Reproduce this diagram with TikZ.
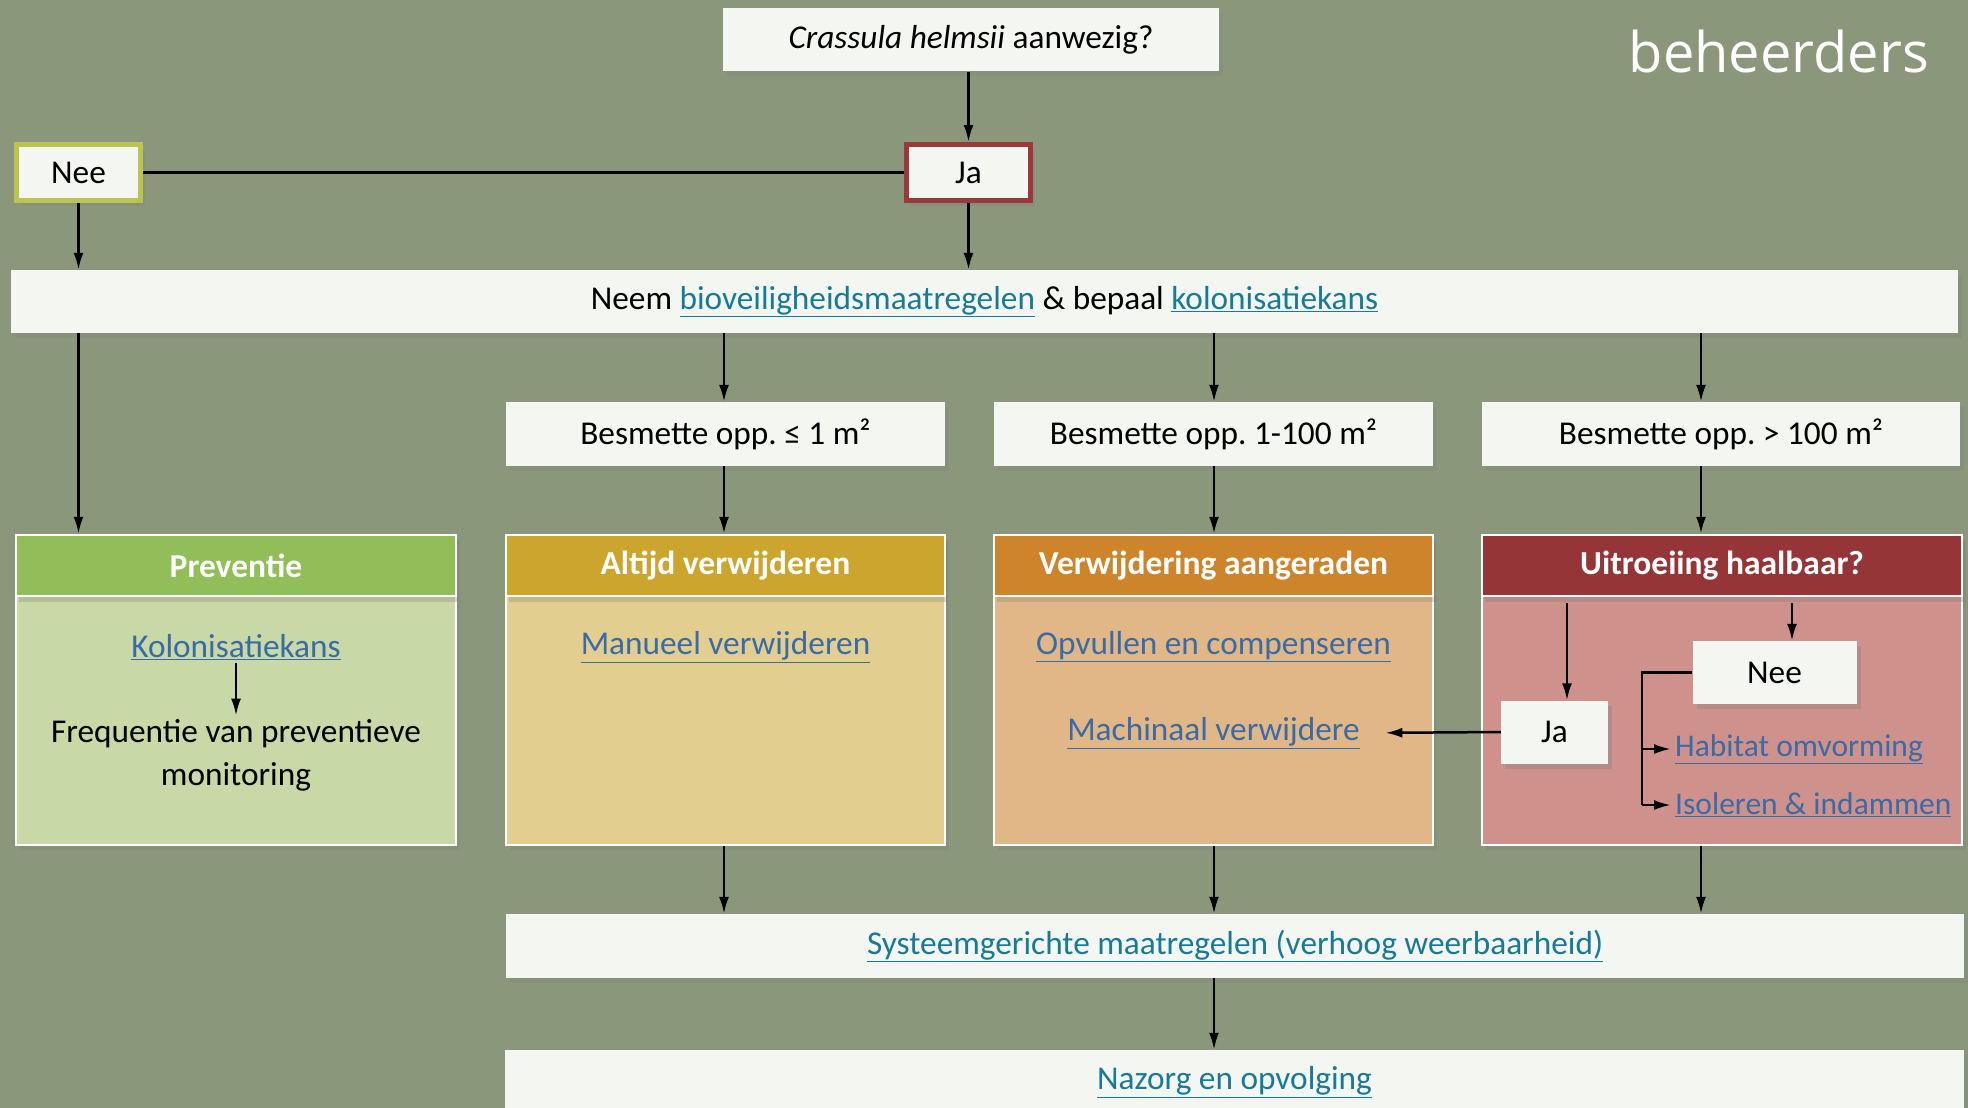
\documentclass[tikz,border=0pt]{standalone}
\usepackage{fontspec}
\setmainfont{Carlito}
\newfontfamily\kopletter{Open Sans}
\usetikzlibrary{positioning, arrows.meta, shadows}
\frenchspacing

\definecolor{achtergrond}{RGB}{139,151,122}
\definecolor{vakwit}{RGB}{244,246,241}
\definecolor{neerand}{RGB}{187,196,79}
\definecolor{jarand}{RGB}{155,56,58}
\definecolor{groenkop}{RGB}{146,190,89}
\definecolor{groenlijf}{RGB}{200,216,166}
\definecolor{goudkop}{RGB}{204,165,46}
\definecolor{goudlijf}{RGB}{226,206,143}
\definecolor{oranjekop}{RGB}{206,132,42}
\definecolor{oranjelijf}{RGB}{225,183,135}
\definecolor{roodkop}{RGB}{150,53,56}
\definecolor{roodlijf}{RGB}{206,145,139}
\definecolor{linkteal}{RGB}{23,122,150}
\definecolor{linkblauw}{RGB}{57,107,166}

\newcommand{\lnk}[1]{\textcolor{linkblauw}{\underline{#1}}}
\newcommand{\lnkt}[1]{\textcolor{linkteal}{\underline{#1}}}

\begin{document}
\begin{tikzpicture}[x=1pt, y=-1pt, font=\fontsize{33.3}{40}\selectfont]
                \tikzset{
                    vak/.style={fill=vakwit, inner sep=0pt, minimum height=63pt,
                        drop shadow={opacity=0.3, shadow xshift=4pt, shadow yshift=-5pt}},
                    kop/.style={draw=white, line width=2.5pt, text=white, font=\fontsize{33.5}{40}\selectfont\bfseries,
                        minimum height=61pt, inner sep=0pt, anchor=north,
                        drop shadow={opacity=0.3, shadow xshift=3pt, shadow yshift=-6pt}},
                    lijf/.style={draw=white, line width=2.5pt, minimum height=310pt, inner sep=0pt,
                        drop shadow={opacity=0.3, shadow xshift=4pt, shadow yshift=-5pt}},
                    pijl/.style={-{Latex[length=17pt, width=10pt]}, line width=2.5pt}
                }

                % BACKGROUND
                \fill[achtergrond] (0,0) rectangle (1968,1108);
                \useasboundingbox (0,0) rectangle (1968,1108);
                \node[anchor=base east, text=white, font=\kopletter\fontsize{56}{64}\selectfont, inner sep=0pt]
                    (titel) at (1929,73) {beheerders};

                % QUESTION
                \node[vak, minimum width=496pt] (vraag) at (971,40) {\textit{Crassula helmsii} aanwezig?};
                \node[vak, draw=neerand, line width=5pt, minimum width=124pt, minimum height=56pt]
                    (nee) at (78.5,172.5) {Nee};
                \node[vak, draw=jarand, line width=5pt, minimum width=124pt, minimum height=56pt]
                    (ja) at (968.5,172.5) {Ja};
                \node[vak, minimum width=1947pt] (neem) at (984.5,301.5)
                    {Neem \lnkt{bioveiligheidsmaatregelen} \& bepaal \lnkt{kolonisatiekans}};

                % SURFACES
                \node[vak, minimum width=439pt, minimum height=64pt] (opp1) at (725.5,434) {Besmette opp. ≤ 1 m²};
                \node[vak, minimum width=439pt, minimum height=64pt] (opp2) at (1213.5,434) {Besmette opp. 1-100 m²};
                \node[vak, minimum width=478pt, minimum height=64pt] (opp3) at (1721,434) {Besmette opp. > 100 m²};

                % CATEGORIES
                \node[lijf, fill=groenlijf, minimum width=440pt] (prev) at (236,690) {};
                \node[kop, fill=groenkop, minimum width=440pt] (prevkop) at (prev.north) {Preventie};
                \node[lijf, fill=goudlijf, minimum width=439pt] (altijd) at (725.5,690) {};
                \node[kop, fill=goudkop, minimum width=439pt] (altijdkop) at (altijd.north) {Altijd verwijderen};
                \node[lijf, fill=oranjelijf, minimum width=439pt] (verw) at (1213.5,690) {};
                \node[kop, fill=oranjekop, minimum width=439pt] (verwkop) at (verw.north) {Verwijdering aangeraden};
                \node[lijf, fill=roodlijf, minimum width=480pt] (uitr) at (1722,690) {};
                \node[kop, fill=roodkop, minimum width=480pt] (uitrkop) at (uitr.north) {Uitroeiing haalbaar?};

                % CONTENTS
                \node (kol) at (236,647) {\lnk{Kolonisatiekans}};
                \node[align=center, font=\fontsize{33.3}{43}\selectfont] (freq) at (236,755)
                    {Frequentie van preventieve\\monitoring};
                \node (man) at (725.5,647) {\lnk{Manueel verwijderen}};
                \node (opv) at (1213.5,647) {\lnk{Opvullen en compenseren}};
                \node (mach) at (1213.5,733) {\lnk{Machinaal verwijdere}};
                \node[vak, minimum width=107pt] (ja2) at (1554.5,732) {Ja};
                \node[vak, minimum width=164pt] (nee2) at (1774.5,672.5) {Nee};
                \node[anchor=west, inner sep=0pt, font=\fontsize{31.5}{38}\selectfont] (hab) at (1675,749)
                    {\lnk{Habitat omvorming}};
                \node[anchor=west, inner sep=0pt, font=\fontsize{31.5}{38}\selectfont] (iso) at (1675,805)
                    {\lnk{Isoleren \& indammen}};

                % BOTTOM
                \node[vak, minimum width=1458pt, minimum height=64pt] (syst) at (1235,946)
                    {\lnkt{Systeemgerichte maatregelen (verhoog weerbaarheid)}};
                \node[vak, minimum width=1459pt, minimum height=64pt] (nazorg) at (1234.5,1082)
                    {\lnkt{Nazorg en opvolging}};

                \coordinate (k1) at (724,0);
                \coordinate (k2) at (1214,0);
                \coordinate (k3) at (1701,0);
                \coordinate (tja) at (1567,0);
                \coordinate (tnee) at (1792,0);
                \coordinate (tak) at (1642,805);

                % TRANSITIONS
                \draw[line width=2.5pt] (nee.east) -- (ja.west);
                \path[pijl]
                    (vraag.south -| ja) edge (ja.north)
                    (nee.south) edge (neem.north -| nee)
                    (ja.south) edge (neem.north -| ja)
                    (neem.south -| nee) edge (prevkop.north -| nee)
                    (neem.south -| k1) edge (opp1.north -| k1)
                    (neem.south -| k2) edge (opp2.north -| k2)
                    (neem.south -| k3) edge (opp3.north -| k3)
                    (opp1.south -| k1) edge (altijdkop.north -| k1)
                    (opp2.south -| k2) edge (verwkop.north -| k2)
                    (opp3.south -| k3) edge (uitrkop.north -| k3)
                    (altijd.south -| k1) edge (syst.north -| k1)
                    (verw.south -| k2) edge (syst.north -| k2)
                    (uitr.south -| k3) edge (syst.north -| k3)
                    (syst.south -| k2) edge (nazorg.north -| k2);

                \draw[pijl] (kol) -- (freq);
                \draw[pijl, shorten <=6pt] (uitrkop.south -| tja) -- (ja2.north -| tja);
                \draw[pijl, shorten <=6pt] (uitrkop.south -| tnee) -- (nee2.north -| tnee);
                \draw[pijl, shorten >=22pt] (ja2.west) -- (mach.east);
                \draw[line width=2.5pt] (nee2.west) -- (nee2.west -| tak) -- (tak);
                \draw[pijl, shorten >=4pt] (tak |- hab) -- (hab.west);
                \draw[pijl, shorten >=4pt] (tak) -- (iso.west);

            \end{tikzpicture}
\end{document}
